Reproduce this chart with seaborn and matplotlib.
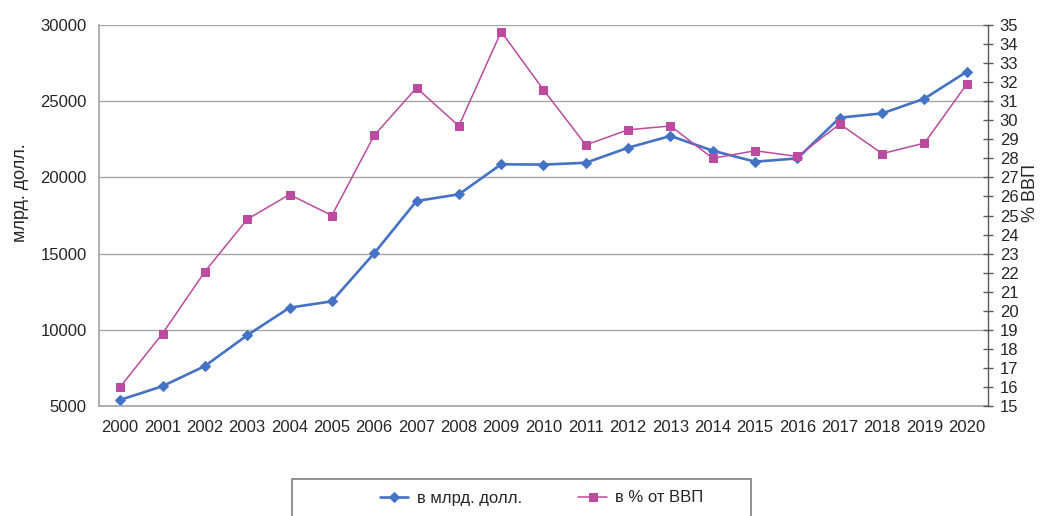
import matplotlib
matplotlib.use("Agg")
import matplotlib.pyplot as plt
from matplotlib.patches import Rectangle
import pandas as pd
import seaborn as sns

years = list(range(2000, 2021))
usd_bn = [5400, 6300, 7620, 9640, 11450, 11870, 15020, 18450, 18890, 20860, 20840,
          20960, 21950, 22720, 21750, 21030, 21250, 23920, 24200, 25170, 26940]
pct_gdp = [16.0, 18.8, 22.05, 24.8, 26.1, 25.0, 29.2, 31.7, 29.7, 34.65, 31.6,
           28.7, 29.5, 29.7, 28.0, 28.4, 28.1, 29.8, 28.25, 28.8, 31.9]

BLUE = "#4472C4"
PINK = "#BC4B9F"
TXT = "#262626"
FS = 12

sns.set_theme(style="white")
plt.rcParams["font.family"] = ["Liberation Sans", "DejaVu Sans"]

df = pd.DataFrame({"pos": range(len(years)), "usd": usd_bn, "pct": pct_gdp})

fig = plt.figure(figsize=(10.41, 5.16), dpi=100)
ax = fig.add_axes([99 / 1041, 1 - 406 / 516, 889 / 1041, 381 / 516])
ax2 = ax.twinx()

sns.lineplot(data=df, x="pos", y="usd", ax=ax, color=BLUE, lw=1.9, marker="D",
             markersize=5.5, markeredgecolor=BLUE, label="в млрд. долл.", legend=False)
sns.lineplot(data=df, x="pos", y="pct", ax=ax2, color=PINK, lw=1.1, marker="s",
             markersize=6, markeredgecolor=PINK, label="в % от ВВП", legend=False)

ax.set_xlim(-0.5, len(years) - 0.5)
ax.set_xticks(range(len(years)))
ax.set_xticklabels([str(y) for y in years])
ax.set_ylim(5000, 30000)
ax.set_yticks(range(5000, 30001, 5000))
ax2.set_ylim(15, 35)
ax2.set_yticks(range(15, 36))

ax.grid(axis="y", color="#A6A6A6", lw=1)
ax.set_axisbelow(True)
ax.spines["top"].set_visible(False)
ax.spines["right"].set_visible(False)
for side in ["top", "bottom", "left"]:
    ax2.spines[side].set_visible(False)
ax.spines["left"].set_color("#A6A6A6")
ax.spines["bottom"].set_color("#A6A6A6")
ax2.spines["right"].set_color("#595959")
ax2.spines["right"].set_linewidth(1)

ax.tick_params(axis="y", length=0, pad=9, labelsize=FS, colors=TXT)
ax.tick_params(axis="x", length=0, pad=10, labelsize=FS, colors=TXT)
ax2.tick_params(axis="y", direction="inout", length=7, width=1, color="#595959",
                pad=5, labelsize=FS, labelcolor=TXT)

ax.set_xlabel("")
ax.set_ylabel("млрд. долл.", fontsize=13, color=TXT)
ax.yaxis.set_label_coords(-0.079, 0.56)
ax2.set_ylabel("% ВВП", fontsize=13, color=TXT)
ax2.yaxis.set_label_coords(1.038, 0.56)

# legend box (cut at bottom as in the source)
fig.patches.append(Rectangle((292 / 1041, -0.05), 459 / 1041, 0.05 + 1 - 479 / 516,
                             transform=fig.transFigure, fill=False,
                             edgecolor="#7F7F7F", lw=1.2))
h1, l1 = ax.get_legend_handles_labels()
h2, l2 = ax2.get_legend_handles_labels()
fig.legend(h1 + h2, l1 + l2, loc="center left", bbox_to_anchor=(380 / 1041, 1 - 498 / 516),
           ncol=2, frameon=False, fontsize=FS, handlelength=1.7, handletextpad=0.5,
           columnspacing=3.4, borderaxespad=0, borderpad=0, labelcolor=TXT)

fig.savefig("out.png", dpi=100)
